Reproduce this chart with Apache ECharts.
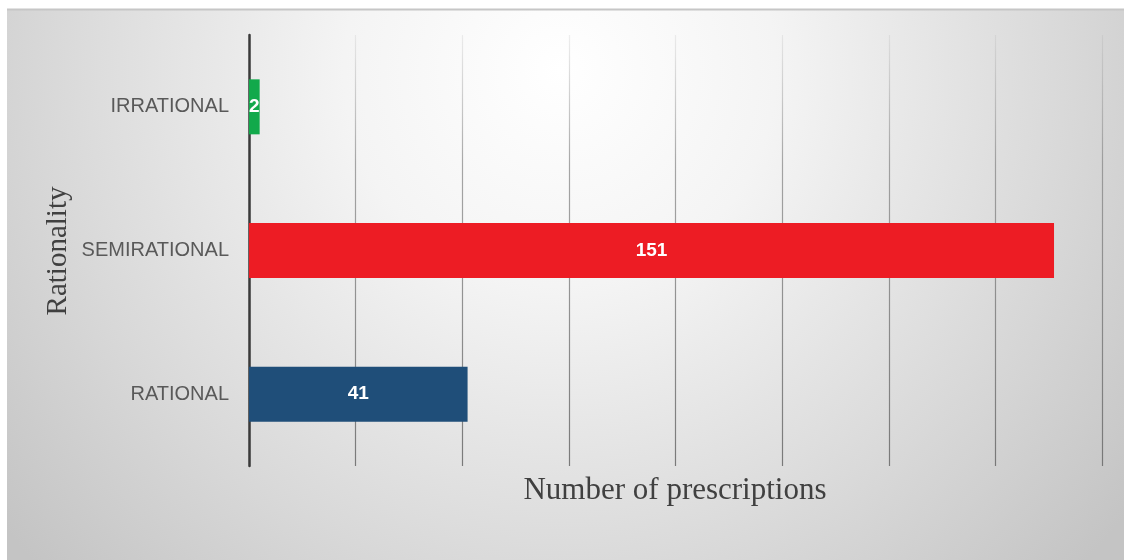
<!DOCTYPE html>
<html>
<head>
<meta charset="utf-8">
<script src="https://cdn.jsdelivr.net/npm/echarts@6/dist/echarts.min.js"></script>
<style>
  html, body { margin: 0; padding: 0; background: #ffffff; }
  #chart { width: 1124px; height: 560px; }
</style>
</head>
<body>
<div id="chart"></div>
<script>
// Prescription rationality counts
const categories = ['RATIONAL', 'SEMIRATIONAL', 'IRRATIONAL'];
const counts = [41, 151, 2];
const barColors = ['#1F4E79', '#ED1C24', '#12A94B'];
const xAxisName = 'Number of prescriptions';
const yAxisName = 'Rationality';

const chart = echarts.init(document.getElementById('chart'), null, { renderer: 'canvas' });

// Soft grey panel with a bright spot near the top centre
const panelFill = new echarts.graphic.RadialGradient(560, 70, 720, [
  { offset: 0, color: '#ffffff' },
  { offset: 0.3, color: '#f4f4f4' },
  { offset: 0.7, color: '#d9d9d9' },
  { offset: 1, color: '#c4c4c4' }
], true);

// Vertical grid lines fade out towards the top
const gridLineColor = new echarts.graphic.LinearGradient(0, 35, 0, 466, [
  { offset: 0, color: 'rgba(150,150,150,0.15)' },
  { offset: 0.3, color: 'rgba(130,130,130,0.7)' },
  { offset: 1, color: 'rgba(110,110,110,0.9)' }
], true);

chart.setOption({
  backgroundColor: '#ffffff',
  animation: false,
  graphic: [
    {
      type: 'rect',
      z: -10,
      silent: true,
      shape: { x: 7, y: 9, width: 1117, height: 551 },
      style: { fill: panelFill }
    },
    {
      type: 'line',
      z: -9,
      silent: true,
      shape: { x1: 7, y1: 9.5, x2: 1124, y2: 9.5 },
      style: { stroke: '#c6c6c6', lineWidth: 2 }
    },
    {
      type: 'text',
      silent: true,
      x: 675,
      y: 491,
      style: {
        text: xAxisName,
        font: '31px "Liberation Serif", serif',
        fill: '#404040',
        align: 'center',
        verticalAlign: 'middle'
      }
    },
    {
      type: 'text',
      silent: true,
      x: 58,
      y: 251,
      rotation: Math.PI / 2,
      style: {
        text: yAxisName,
        font: '29px "Liberation Serif", serif',
        fill: '#404040',
        align: 'center',
        verticalAlign: 'middle'
      }
    }
  ],
  grid: { left: 249, right: 22, top: 35, bottom: 94 },
  xAxis: {
    type: 'value',
    min: 0,
    max: 160,
    interval: 20,
    axisLine: { show: false },
    axisTick: { show: false },
    axisLabel: { show: false },
    splitLine: { show: true, lineStyle: { color: gridLineColor, width: 1.2 } }
  },
  yAxis: {
    type: 'category',
    data: categories,
    axisLine: { show: true, lineStyle: { color: '#3a3a3a', width: 2.5 } },
    axisTick: { show: false },
    axisLabel: {
      margin: 20,
      color: '#595959',
      fontSize: 20,
      fontFamily: '"Liberation Sans", Arial, sans-serif'
    }
  },
  series: [{
    type: 'bar',
    barWidth: 55,
    z: 1,
    data: counts.map((v, i) => ({ value: v, itemStyle: { color: barColors[i] } })),
    label: {
      show: true,
      position: 'inside',
      color: '#ffffff',
      fontWeight: 'bold',
      fontSize: 19,
      fontFamily: '"Liberation Sans", Arial, sans-serif'
    }
  }]
});
</script>
</body>
</html>
